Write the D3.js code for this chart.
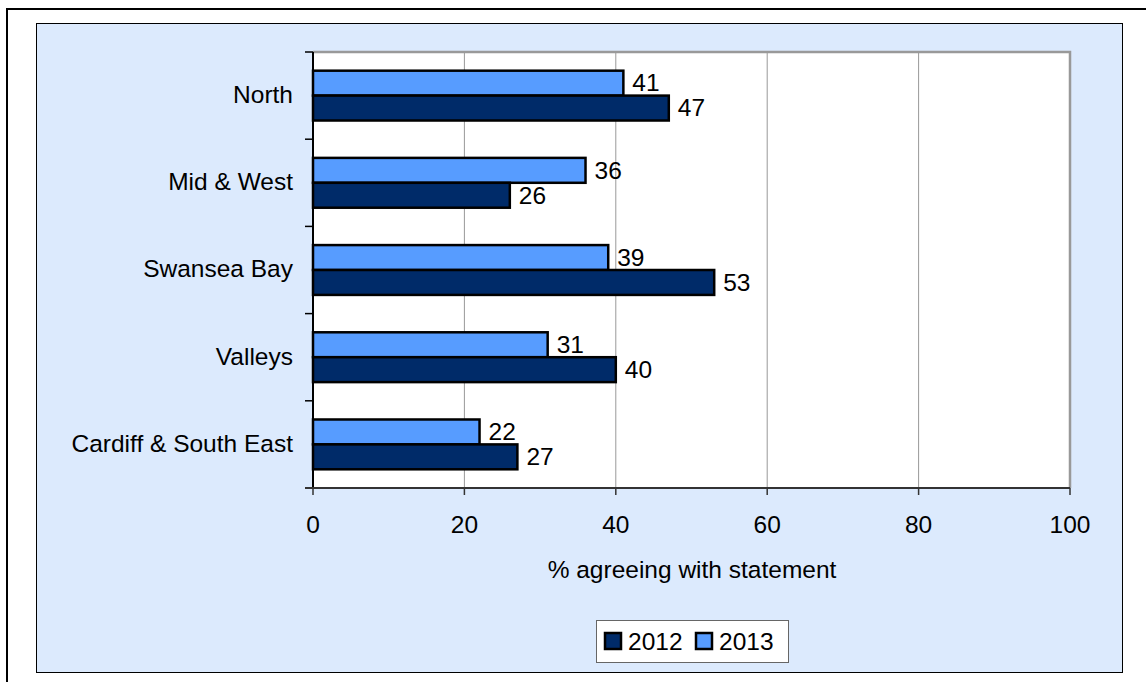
<!DOCTYPE html>
<html><head><meta charset="utf-8">
<script src="https://cdn.jsdelivr.net/npm/d3@7"></script>
<style>body{margin:0;background:#fff}svg{display:block}text{font-family:"Liberation Sans",Arial,sans-serif;fill:#000}</style>
</head><body>
<svg id="c" width="1146" height="682"></svg>
<script>
const categories = ["North", "Mid & West", "Swansea Bay", "Valleys", "Cardiff & South East"];
const seriesNames = ["2012", "2013"];
const values2012 = [47, 26, 53, 40, 27];
const values2013 = [41, 36, 39, 31, 22];
const xTicks = [0, 20, 40, 60, 80, 100];
const axisTitle = "% agreeing with statement";
const colors = {"2012": "#002B69", "2013": "#579CFF"};
const FS = 24.5;

const svg = d3.select("#c");
// outer frame
svg.append("rect").attr("x", 7).attr("y", 9).attr("width", 1150).attr("height", 690)
  .attr("fill", "#fff").attr("stroke", "#000").attr("stroke-width", 2);
// panel
svg.append("rect").attr("x", 36.5).attr("y", 23.5).attr("width", 1086).attr("height", 649)
  .attr("fill", "#DCEAFD").attr("stroke", "#000").attr("stroke-width", 1);

const L = 313, R = 1070, T = 52, B = 488;
const x = d3.scaleLinear().domain([0, 100]).range([L, R]);
const y = d3.scaleBand().domain(categories).range([T, B]);
const inner = d3.scaleBand().domain(["2013", "2012"]).range([0, y.bandwidth()]).paddingInner(0).paddingOuter(0.75);

svg.append("rect").attr("x", L).attr("y", T).attr("width", R - L).attr("height", B - T).attr("fill", "#fff");
// gridlines
svg.append("g").selectAll("line").data(xTicks.slice(1, -1)).join("line")
  .attr("x1", d => x(d)).attr("x2", d => x(d)).attr("y1", T).attr("y2", B)
  .attr("stroke", "#999").attr("stroke-width", 1);
// top & right border
svg.append("path").attr("d", `M${L},${T}H${R}V${B}`).attr("fill", "none").attr("stroke", "#999").attr("stroke-width", 2.5);

const rows = categories.map((c, i) => ({c, v: {"2012": values2012[i], "2013": values2013[i]}}));
const g = svg.append("g");
rows.forEach(r => {
  ["2013", "2012"].forEach(s => {
    const yy = y(r.c) + inner(s);
    g.append("rect").attr("x", x(0)).attr("y", yy).attr("width", x(r.v[s]) - x(0)).attr("height", inner.bandwidth())
      .attr("fill", colors[s]).attr("stroke", "#000").attr("stroke-width", 2.5);
    g.append("text").attr("x", x(r.v[s]) + 9).attr("y", yy + inner.bandwidth() / 2)
      .attr("dy", "0.34em").attr("font-size", FS).text(r.v[s]);
  });
});

// y axis
const yAxisG = svg.append("g");
yAxisG.append("line").attr("x1", L).attr("x2", L).attr("y1", T).attr("y2", B).attr("stroke", "#000").attr("stroke-width", 2);
const bounds = categories.map(c => y(c)).concat([B]);
yAxisG.selectAll("line.t").data(bounds).join("line").attr("class", "t")
  .attr("x1", L - 8).attr("x2", L).attr("y1", d => d).attr("y2", d => d).attr("stroke", "#000").attr("stroke-width", 1.5);
yAxisG.selectAll("text").data(categories).join("text")
  .attr("x", 293).attr("y", d => y(d) + y.bandwidth() / 2).attr("dy", "0.3em")
  .attr("text-anchor", "end").attr("font-size", FS).text(d => d);

// x axis
const xAxisG = svg.append("g");
xAxisG.append("line").attr("x1", L - 8).attr("x2", R).attr("y1", B).attr("y2", B).attr("stroke", "#333").attr("stroke-width", 2);
xAxisG.selectAll("line.t").data(xTicks).join("line").attr("class", "t")
  .attr("x1", d => x(d)).attr("x2", d => x(d)).attr("y1", B).attr("y2", B + 7).attr("stroke", "#333").attr("stroke-width", 1.5);
xAxisG.selectAll("text").data(xTicks).join("text")
  .attr("x", d => x(d)).attr("y", 533).attr("text-anchor", "middle").attr("font-size", FS).text(d => d);
svg.append("text").attr("x", 692).attr("y", 578).attr("text-anchor", "middle")
  .attr("font-size", FS).text(axisTitle);

// legend
const lg = svg.append("g");
lg.append("rect").attr("x", 596.5).attr("y", 620.5).attr("width", 192).attr("height", 42).attr("fill", "#fff").attr("stroke", "#666").attr("stroke-width", 1);
const legX = {"2012": 605, "2013": 696};
seriesNames.forEach(s => {
  lg.append("rect").attr("x", legX[s]).attr("y", 633).attr("width", 16).attr("height", 16)
    .attr("fill", colors[s]).attr("stroke", "#000").attr("stroke-width", 2.5);
  lg.append("text").attr("x", legX[s] + 23).attr("y", 649.5).attr("font-size", FS).text(s);
});
</script>
</body></html>
